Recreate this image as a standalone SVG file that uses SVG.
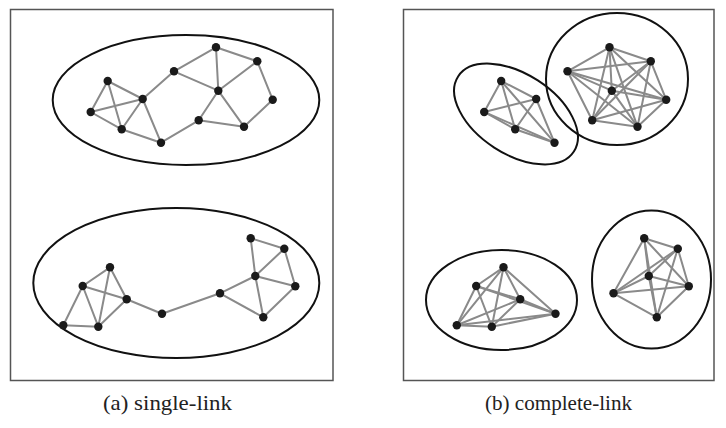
<svg xmlns="http://www.w3.org/2000/svg" width="726" height="428" viewBox="0 0 726 428">
<style>
.box{fill:none;stroke:#555;stroke-width:1.5}
.cl{fill:none;stroke:#111;stroke-width:2}
.e{stroke:#8a8a8a;stroke-width:2;stroke-linecap:round}
.n{fill:#1a1a1a}
.cap{font-family:"Liberation Serif","DejaVu Serif",serif;font-size:21px;fill:#222}
</style>
<rect width="726" height="428" fill="#fff"/>
<g id="panels">
<rect class="box" x="10.5" y="9.5" width="322.5" height="371"/>
<rect class="box" x="403.5" y="9.5" width="310.5" height="371"/>
</g>
<g id="clusters">
<ellipse class="cl" cx="186" cy="100" rx="133.3" ry="65"/>
<ellipse class="cl" cx="176.3" cy="283" rx="143" ry="75"/>
<ellipse class="cl" cx="516" cy="114" rx="69" ry="40" transform="rotate(33 516 114)"/>
<ellipse class="cl" cx="617" cy="79" rx="71" ry="66"/>
<ellipse class="cl" cx="501.5" cy="300" rx="75.5" ry="50"/>
<ellipse class="cl" cx="651.5" cy="279.5" rx="59.5" ry="69"/>
</g>
<g id="connectors">
<!-- single-link top -->
<line class="e" x1="107.7" y1="81" x2="90.7" y2="112"/>
<line class="e" x1="107.7" y1="81" x2="121.7" y2="129.3"/>
<line class="e" x1="107.7" y1="81" x2="142.7" y2="99"/>
<line class="e" x1="90.7" y1="112" x2="121.7" y2="129.3"/>
<line class="e" x1="90.7" y1="112" x2="142.7" y2="99"/>
<line class="e" x1="121.7" y1="129.3" x2="142.7" y2="99"/>
<line class="e" x1="121.7" y1="129.3" x2="161" y2="142.7"/>
<line class="e" x1="142.7" y1="99" x2="161" y2="142.7"/>
<line class="e" x1="142.7" y1="99" x2="174" y2="71.3"/>
<line class="e" x1="161" y1="142.7" x2="198.7" y2="120.3"/>
<line class="e" x1="174" y1="71.3" x2="216" y2="47.3"/>
<line class="e" x1="174" y1="71.3" x2="218.3" y2="90.7"/>
<line class="e" x1="216" y1="47.3" x2="257.3" y2="61.3"/>
<line class="e" x1="216" y1="47.3" x2="218.3" y2="90.7"/>
<line class="e" x1="257.3" y1="61.3" x2="218.3" y2="90.7"/>
<line class="e" x1="257.3" y1="61.3" x2="272.7" y2="99.7"/>
<line class="e" x1="218.3" y1="90.7" x2="198.7" y2="120.3"/>
<line class="e" x1="218.3" y1="90.7" x2="244" y2="126.7"/>
<line class="e" x1="272.7" y1="99.7" x2="244" y2="126.7"/>
<line class="e" x1="198.7" y1="120.3" x2="244" y2="126.7"/>
<!-- single-link bottom -->
<line class="e" x1="110" y1="267.3" x2="82.7" y2="286"/>
<line class="e" x1="110" y1="267.3" x2="126.7" y2="299.3"/>
<line class="e" x1="110" y1="267.3" x2="98.3" y2="326.7"/>
<line class="e" x1="82.7" y1="286" x2="126.7" y2="299.3"/>
<line class="e" x1="82.7" y1="286" x2="63.3" y2="325.3"/>
<line class="e" x1="82.7" y1="286" x2="98.3" y2="326.7"/>
<line class="e" x1="63.3" y1="325.3" x2="98.3" y2="326.7"/>
<line class="e" x1="126.7" y1="299.3" x2="98.3" y2="326.7"/>
<line class="e" x1="126.7" y1="299.3" x2="162" y2="313.7"/>
<line class="e" x1="162" y1="313.7" x2="220" y2="293.3"/>
<line class="e" x1="220" y1="293.3" x2="255.3" y2="276"/>
<line class="e" x1="220" y1="293.3" x2="263.3" y2="317.3"/>
<line class="e" x1="250.7" y1="238.3" x2="284.3" y2="248.7"/>
<line class="e" x1="250.7" y1="238.3" x2="255.3" y2="276"/>
<line class="e" x1="284.3" y1="248.7" x2="255.3" y2="276"/>
<line class="e" x1="284.3" y1="248.7" x2="295.3" y2="286.3"/>
<line class="e" x1="255.3" y1="276" x2="295.3" y2="286.3"/>
<line class="e" x1="255.3" y1="276" x2="263.3" y2="317.3"/>
<line class="e" x1="295.3" y1="286.3" x2="263.3" y2="317.3"/>
<!-- complete-link cluster 1 -->
<line class="e" x1="501.2" y1="81" x2="484.2" y2="112"/>
<line class="e" x1="501.2" y1="81" x2="515.2" y2="129.3"/>
<line class="e" x1="501.2" y1="81" x2="536.2" y2="99"/>
<line class="e" x1="501.2" y1="81" x2="554.5" y2="142.7"/>
<line class="e" x1="484.2" y1="112" x2="515.2" y2="129.3"/>
<line class="e" x1="484.2" y1="112" x2="536.2" y2="99"/>
<line class="e" x1="484.2" y1="112" x2="554.5" y2="142.7"/>
<line class="e" x1="515.2" y1="129.3" x2="536.2" y2="99"/>
<line class="e" x1="515.2" y1="129.3" x2="554.5" y2="142.7"/>
<line class="e" x1="536.2" y1="99" x2="554.5" y2="142.7"/>
<!-- complete-link cluster 2 -->
<line class="e" x1="567.5" y1="71.3" x2="609.5" y2="47.3"/>
<line class="e" x1="567.5" y1="71.3" x2="650.8" y2="61.3"/>
<line class="e" x1="567.5" y1="71.3" x2="611.8" y2="90.7"/>
<line class="e" x1="567.5" y1="71.3" x2="666.2" y2="99.7"/>
<line class="e" x1="567.5" y1="71.3" x2="592.2" y2="120.3"/>
<line class="e" x1="567.5" y1="71.3" x2="637.5" y2="126.7"/>
<line class="e" x1="609.5" y1="47.3" x2="650.8" y2="61.3"/>
<line class="e" x1="609.5" y1="47.3" x2="611.8" y2="90.7"/>
<line class="e" x1="609.5" y1="47.3" x2="666.2" y2="99.7"/>
<line class="e" x1="609.5" y1="47.3" x2="592.2" y2="120.3"/>
<line class="e" x1="609.5" y1="47.3" x2="637.5" y2="126.7"/>
<line class="e" x1="650.8" y1="61.3" x2="611.8" y2="90.7"/>
<line class="e" x1="650.8" y1="61.3" x2="666.2" y2="99.7"/>
<line class="e" x1="650.8" y1="61.3" x2="592.2" y2="120.3"/>
<line class="e" x1="650.8" y1="61.3" x2="637.5" y2="126.7"/>
<line class="e" x1="611.8" y1="90.7" x2="666.2" y2="99.7"/>
<line class="e" x1="611.8" y1="90.7" x2="592.2" y2="120.3"/>
<line class="e" x1="611.8" y1="90.7" x2="637.5" y2="126.7"/>
<line class="e" x1="666.2" y1="99.7" x2="592.2" y2="120.3"/>
<line class="e" x1="666.2" y1="99.7" x2="637.5" y2="126.7"/>
<line class="e" x1="592.2" y1="120.3" x2="637.5" y2="126.7"/>
<!-- complete-link cluster 3 -->
<line class="e" x1="503.5" y1="267.3" x2="476.2" y2="286"/>
<line class="e" x1="503.5" y1="267.3" x2="520.2" y2="299.3"/>
<line class="e" x1="503.5" y1="267.3" x2="456.8" y2="325.3"/>
<line class="e" x1="503.5" y1="267.3" x2="491.8" y2="326.7"/>
<line class="e" x1="503.5" y1="267.3" x2="555.5" y2="313.7"/>
<line class="e" x1="476.2" y1="286" x2="520.2" y2="299.3"/>
<line class="e" x1="476.2" y1="286" x2="456.8" y2="325.3"/>
<line class="e" x1="476.2" y1="286" x2="491.8" y2="326.7"/>
<line class="e" x1="476.2" y1="286" x2="555.5" y2="313.7"/>
<line class="e" x1="520.2" y1="299.3" x2="456.8" y2="325.3"/>
<line class="e" x1="520.2" y1="299.3" x2="491.8" y2="326.7"/>
<line class="e" x1="520.2" y1="299.3" x2="555.5" y2="313.7"/>
<line class="e" x1="456.8" y1="325.3" x2="491.8" y2="326.7"/>
<line class="e" x1="456.8" y1="325.3" x2="555.5" y2="313.7"/>
<line class="e" x1="491.8" y1="326.7" x2="555.5" y2="313.7"/>
<!-- complete-link cluster 4 -->
<line class="e" x1="613.5" y1="293.3" x2="644.2" y2="238.3"/>
<line class="e" x1="613.5" y1="293.3" x2="677.8" y2="248.7"/>
<line class="e" x1="613.5" y1="293.3" x2="648.8" y2="276"/>
<line class="e" x1="613.5" y1="293.3" x2="688.8" y2="286.3"/>
<line class="e" x1="613.5" y1="293.3" x2="656.8" y2="317.3"/>
<line class="e" x1="644.2" y1="238.3" x2="677.8" y2="248.7"/>
<line class="e" x1="644.2" y1="238.3" x2="648.8" y2="276"/>
<line class="e" x1="644.2" y1="238.3" x2="688.8" y2="286.3"/>
<line class="e" x1="644.2" y1="238.3" x2="656.8" y2="317.3"/>
<line class="e" x1="677.8" y1="248.7" x2="648.8" y2="276"/>
<line class="e" x1="677.8" y1="248.7" x2="688.8" y2="286.3"/>
<line class="e" x1="677.8" y1="248.7" x2="656.8" y2="317.3"/>
<line class="e" x1="648.8" y1="276" x2="688.8" y2="286.3"/>
<line class="e" x1="648.8" y1="276" x2="656.8" y2="317.3"/>
<line class="e" x1="688.8" y1="286.3" x2="656.8" y2="317.3"/>
</g>
<g id="nodes-single">
<g id="sA"><circle class="n" cx="107.7" cy="81" r="4.2"/></g>
<g id="sB"><circle class="n" cx="90.7" cy="112" r="4.2"/></g>
<g id="sC"><circle class="n" cx="121.7" cy="129.3" r="4.2"/></g>
<g id="sD"><circle class="n" cx="142.7" cy="99" r="4.2"/></g>
<g id="sE"><circle class="n" cx="161" cy="142.7" r="4.2"/></g>
<g id="sF"><circle class="n" cx="174" cy="71.3" r="4.2"/></g>
<g id="sG"><circle class="n" cx="216" cy="47.3" r="4.2"/></g>
<g id="sH"><circle class="n" cx="257.3" cy="61.3" r="4.2"/></g>
<g id="sI"><circle class="n" cx="218.3" cy="90.7" r="4.2"/></g>
<g id="sJ"><circle class="n" cx="272.7" cy="99.7" r="4.2"/></g>
<g id="sK"><circle class="n" cx="198.7" cy="120.3" r="4.2"/></g>
<g id="sL"><circle class="n" cx="244" cy="126.7" r="4.2"/></g>
<g id="sa"><circle class="n" cx="110" cy="267.3" r="4.2"/></g>
<g id="sb"><circle class="n" cx="82.7" cy="286" r="4.2"/></g>
<g id="sc"><circle class="n" cx="126.7" cy="299.3" r="4.2"/></g>
<g id="sd"><circle class="n" cx="63.3" cy="325.3" r="4.2"/></g>
<g id="se"><circle class="n" cx="98.3" cy="326.7" r="4.2"/></g>
<g id="sf"><circle class="n" cx="162" cy="313.7" r="4.2"/></g>
<g id="sg"><circle class="n" cx="220" cy="293.3" r="4.2"/></g>
<g id="sh"><circle class="n" cx="250.7" cy="238.3" r="4.2"/></g>
<g id="si"><circle class="n" cx="284.3" cy="248.7" r="4.2"/></g>
<g id="sj"><circle class="n" cx="255.3" cy="276" r="4.2"/></g>
<g id="sk"><circle class="n" cx="295.3" cy="286.3" r="4.2"/></g>
<g id="sl"><circle class="n" cx="263.3" cy="317.3" r="4.2"/></g>
</g>
<g id="nodes-complete">
<g id="cA"><circle class="n" cx="501.2" cy="81" r="4.2"/></g>
<g id="cB"><circle class="n" cx="484.2" cy="112" r="4.2"/></g>
<g id="cC"><circle class="n" cx="515.2" cy="129.3" r="4.2"/></g>
<g id="cD"><circle class="n" cx="536.2" cy="99" r="4.2"/></g>
<g id="cE"><circle class="n" cx="554.5" cy="142.7" r="4.2"/></g>
<g id="cF"><circle class="n" cx="567.5" cy="71.3" r="4.2"/></g>
<g id="cG"><circle class="n" cx="609.5" cy="47.3" r="4.2"/></g>
<g id="cH"><circle class="n" cx="650.8" cy="61.3" r="4.2"/></g>
<g id="cI"><circle class="n" cx="611.8" cy="90.7" r="4.2"/></g>
<g id="cJ"><circle class="n" cx="666.2" cy="99.7" r="4.2"/></g>
<g id="cK"><circle class="n" cx="592.2" cy="120.3" r="4.2"/></g>
<g id="cL"><circle class="n" cx="637.5" cy="126.7" r="4.2"/></g>
<g id="ca"><circle class="n" cx="503.5" cy="267.3" r="4.2"/></g>
<g id="cb"><circle class="n" cx="476.2" cy="286" r="4.2"/></g>
<g id="cc"><circle class="n" cx="520.2" cy="299.3" r="4.2"/></g>
<g id="cd"><circle class="n" cx="456.8" cy="325.3" r="4.2"/></g>
<g id="ce"><circle class="n" cx="491.8" cy="326.7" r="4.2"/></g>
<g id="cf"><circle class="n" cx="555.5" cy="313.7" r="4.2"/></g>
<g id="cg"><circle class="n" cx="613.5" cy="293.3" r="4.2"/></g>
<g id="ch"><circle class="n" cx="644.2" cy="238.3" r="4.2"/></g>
<g id="ci"><circle class="n" cx="677.8" cy="248.7" r="4.2"/></g>
<g id="cj"><circle class="n" cx="648.8" cy="276" r="4.2"/></g>
<g id="ck"><circle class="n" cx="688.8" cy="286.3" r="4.2"/></g>
<g id="cl"><circle class="n" cx="656.8" cy="317.3" r="4.2"/></g>
</g>
<g id="captions">
<text class="cap" x="103" y="410" textLength="129" lengthAdjust="spacingAndGlyphs">(a) single-link</text>
<text class="cap" x="485" y="410" textLength="147" lengthAdjust="spacingAndGlyphs">(b) complete-link</text>
</g>
</svg>
